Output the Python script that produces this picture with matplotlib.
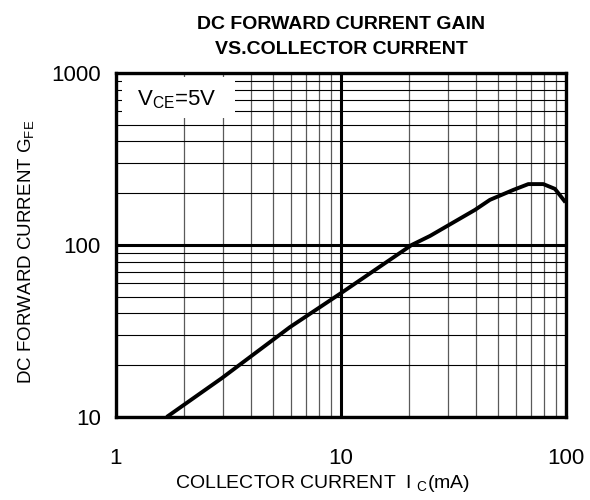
import matplotlib
matplotlib.use("Agg")
import matplotlib.pyplot as plt
from matplotlib.patches import Rectangle
from matplotlib.ticker import LogLocator, NullFormatter, FixedLocator, FixedFormatter

# curva (Ic em mA, ganho hFE)
ic = [1.68, 2.95, 5.93, 10, 20.6, 24.9, 39.4, 45.9, 58.3, 68, 79.3, 89.3, 95.7, 99.5]
hfe = [10, 16.8, 33.3, 52.5, 100, 113, 160, 183, 209, 226, 226, 212, 189, 177]

xticks = [1, 10, 100]
xtick_labels = ["1", "10", "100"]
yticks = [10, 100, 1000]
ytick_labels = ["10", "100", "1000"]

titulo = "DC FORWARD CURRENT GAIN\nVS.COLLECTOR CURRENT"
eixox = r"COLLECTOR CURRENT  I $_{\mathrm{C}}$(mA)"
eixoy = r"DC FORWARD CURRENT G$_{\mathrm{FE}}$"
nota = r"V$_{\mathrm{CE}}$=5V"

plt.rcParams["font.family"] = ["Liberation Sans", "DejaVu Sans"]
plt.rcParams["mathtext.fontset"] = "custom"
plt.rcParams["mathtext.rm"] = "Liberation Sans"
plt.rcParams["mathtext.it"] = "Liberation Sans"

fig = plt.figure(figsize=(5.9, 5.0), dpi=100)
ax = fig.add_axes([0.1966, 0.166, 0.7627, 0.688])

ax.set_xscale("log")
ax.set_yscale("log")
ax.set_xlim(1, 100)
ax.set_ylim(10, 1000)

# grade
ax.xaxis.set_major_locator(FixedLocator(xticks))
ax.xaxis.set_major_formatter(FixedFormatter(xtick_labels))
ax.yaxis.set_major_locator(FixedLocator(yticks))
ax.yaxis.set_major_formatter(FixedFormatter(ytick_labels))
ax.xaxis.set_minor_locator(LogLocator(base=10, subs=range(2, 10)))
ax.yaxis.set_minor_locator(LogLocator(base=10, subs=range(2, 10)))
ax.xaxis.set_minor_formatter(NullFormatter())
ax.yaxis.set_minor_formatter(NullFormatter())

ax.grid(True, which="major", color="k", linewidth=2.2)
ax.xaxis.grid(True, which="minor", color="#5a5a5a", linewidth=0.9)
ax.yaxis.grid(True, which="minor", color="k", linewidth=0.8)
ax.set_axisbelow(True)

ax.tick_params(which="both", length=0)
ax.tick_params(axis="x", pad=22, labelsize=16)
ax.tick_params(axis="y", pad=11, labelsize=16)

for s in ax.spines.values():
    s.set_linewidth(2.4)
    s.set_zorder(5)

ax.plot(ic, hfe, color="k", linewidth=2.8, solid_capstyle="butt", zorder=4)

# caixa branca da anotacao
ax.add_patch(Rectangle((0.013, 0.869), 0.251, 0.12, transform=ax.transAxes,
                       facecolor="white", edgecolor="none", zorder=3))
ax.text(0.136, 0.921, nota, transform=ax.transAxes, ha="center", va="center",
        fontsize=16, zorder=4)

ax.set_title(titulo, fontsize=14, fontweight="bold", linespacing=1.6, pad=14)
ax.set_xlabel(eixox, fontsize=14)
ax.set_ylabel(eixoy, fontsize=13.5)
ax.xaxis.set_label_coords(0.46, -0.163)
ax.yaxis.set_label_coords(-0.178, 0.48)

plt.savefig("out.png", dpi=100)
